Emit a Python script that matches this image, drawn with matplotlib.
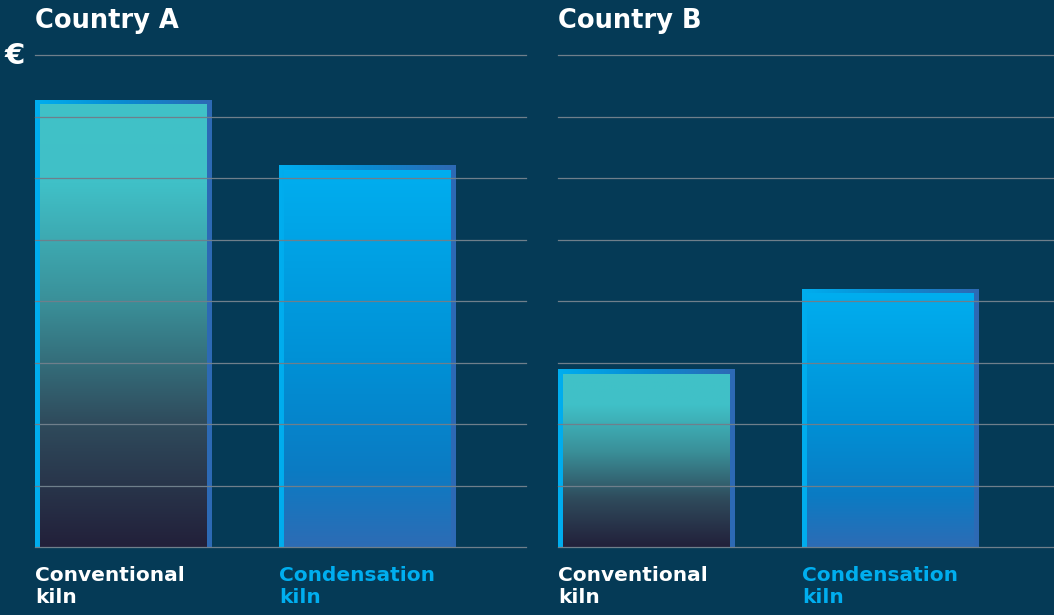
import matplotlib
matplotlib.use("Agg")
import matplotlib.pyplot as plt
import numpy as np
from matplotlib.colors import LinearSegmentedColormap

# values (grid step = 1 unit, top line = 8)
countries = ['Country A', 'Country B']
kilns = ['Conventional\nkiln', 'Condensation\nkiln']
values_a = [7.27, 6.21]
values_b = [2.89, 4.20]

bg = '#053a56'
grid_col = '#6f7f8b'
label_cols = ['white', '#00aeef']

# gradients
border_cmap = LinearSegmentedColormap.from_list('border', ['#00aeef', '#0a8bd2', '#2e69b4'])
conv_cmap = LinearSegmentedColormap.from_list(
    'conv', [(0, '#40c2c8'), (0.18, '#40c0c7'), (0.45, '#3a8f98'), (0.72, '#2f4b5c'), (1, '#22203a')])
cond_cmap = LinearSegmentedColormap.from_list(
    'cond', [(0, '#00aeef'), (0.5, '#0091d6'), (0.8, '#0b7bc3'), (1, '#2d6cb5')])
fill_cmaps = [conv_cmap, cond_cmap]

W, H = 1054, 615
fig = plt.figure(figsize=(W / 100, H / 100), dpi=100, facecolor=bg)

bar_w = 0.725
px_x = 1 / 244.0
px_y = 8 / 492.0
inset_x = 5 * px_x
inset_y = 5 * px_y

panels = [(35, 491, values_a), (558, 496, values_b)]
hgrad = np.linspace(0, 1, 256).reshape(1, -1)
vgrad = np.linspace(0, 1, 256).reshape(-1, 1)

for (left, width, vals), title in zip(panels, countries):
    ax = fig.add_axes([left / W, 68 / H, width / W, 492 / H])
    ax.set_facecolor(bg)
    x0 = -bar_w / 2
    for s in ax.spines.values():
        s.set_visible(False)
    ax.set_xticks([])
    ax.set_yticks([])

    bars = ax.bar(range(len(vals)), vals, width=bar_w, color='none', edgecolor='none')
    for i, b in enumerate(bars):
        bx, bh, bw = b.get_x(), b.get_height(), b.get_width()
        im = ax.imshow(hgrad, cmap=border_cmap, aspect='auto',
                       extent=[bx, bx + bw, 0, bh], zorder=2)
        im.set_clip_path(b)
        ax.imshow(vgrad, cmap=fill_cmaps[i], aspect='auto',
                  extent=[bx + inset_x, bx + bw - inset_x, 0, bh - inset_y], zorder=3)
        ax.text(bx, -19 * px_y, kilns[i], color=label_cols[i], fontsize=14.5,
                fontweight='bold', ha='left', va='top', linespacing=1.2,
                clip_on=False)

    for g in range(0, 9):
        ax.axhline(g, color=grid_col, lw=0.9, zorder=5, clip_on=False)
    ax.set_xlim(x0, x0 + width * px_x)
    ax.set_ylim(0, 8)

    fig.text(left / W, 1 - 8 / H, title, color='white', fontsize=18.5,
             fontweight='bold', ha='left', va='top')

fig.text(4 / W, 1 - 56 / H, '€', color='white', fontsize=21,
         fontweight='bold', ha='left', va='center')

fig.savefig('out.png', dpi=100, facecolor=bg)
